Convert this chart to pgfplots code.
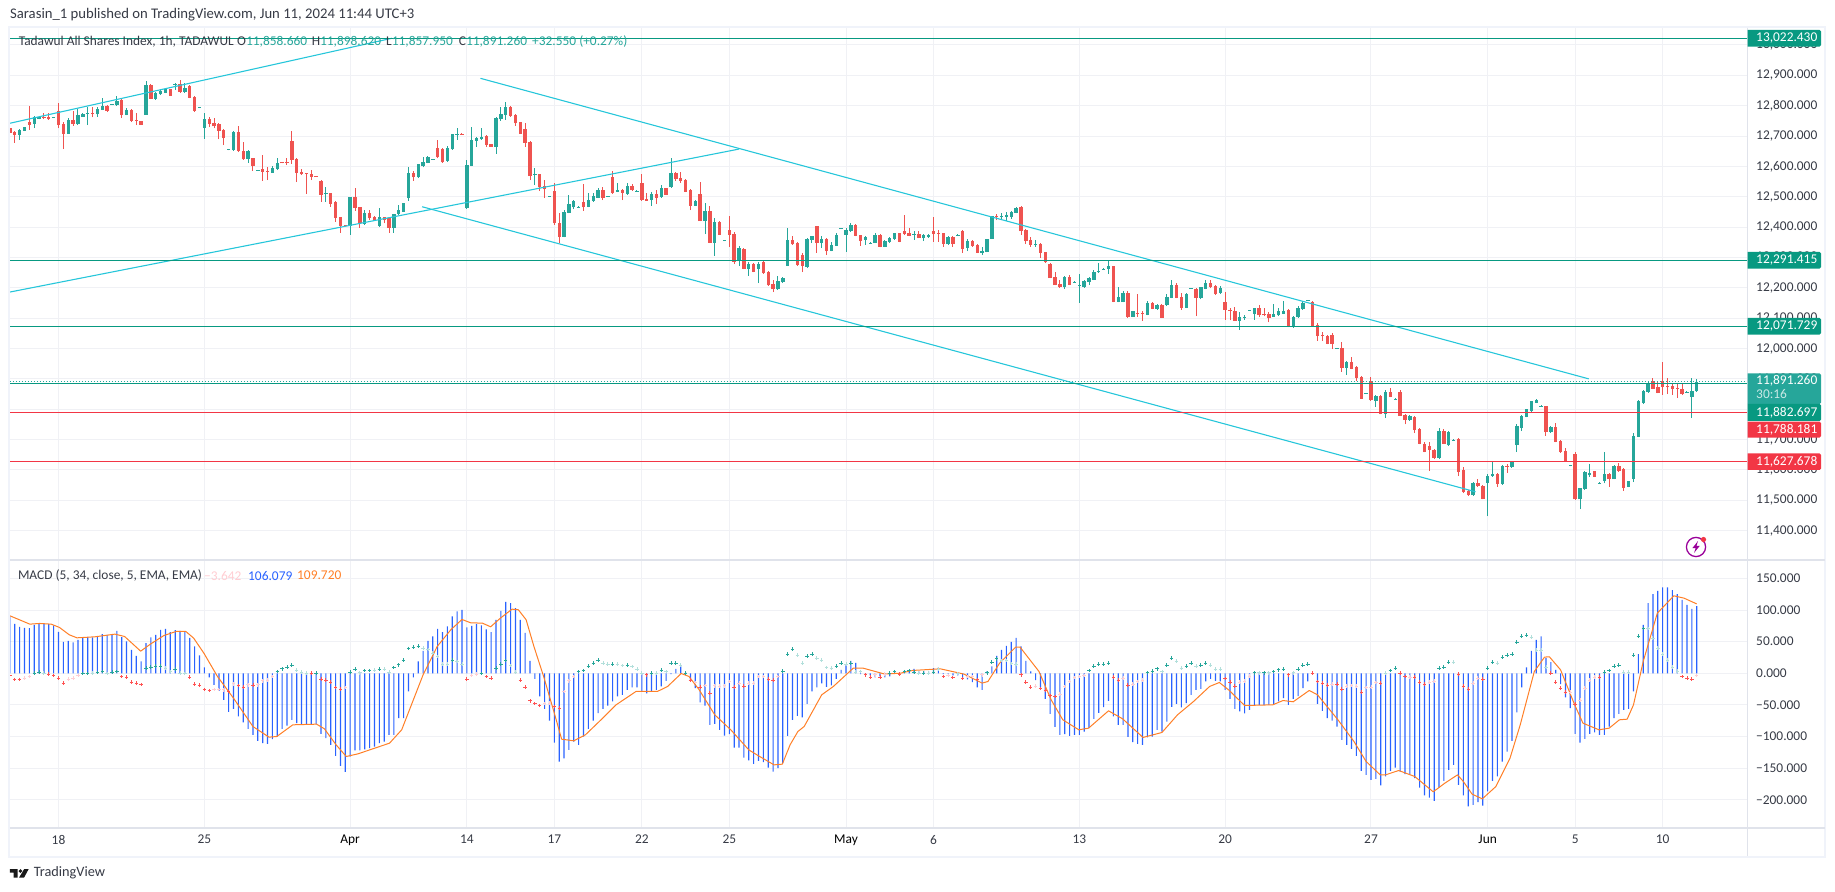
\documentclass[border=0pt]{standalone}
\usepackage{pgfplots}
\usepackage{pgfplotstable}
\pgfplotsset{compat=1.18}
\usepackage{fontspec}
\setmainfont{Carlito}

\definecolor{cup}{HTML}{26A69A}
\definecolor{cdn}{HTML}{EF5350}
\definecolor{gridc}{HTML}{F0F1F5}
\definecolor{framec}{HTML}{F0F3FA}
\definecolor{divc}{HTML}{E0E3EB}
\definecolor{chan}{HTML}{26C6DA}
\definecolor{lvlg}{HTML}{089981}
\definecolor{lvlr}{HTML}{F23645}
\definecolor{macdb}{HTML}{2962FF}
\definecolor{sigo}{HTML}{FF7F27}
\definecolor{hg}{HTML}{26A69A}
\definecolor{hl}{HTML}{B2DFDB}
\definecolor{hr}{HTML}{FF5252}
\definecolor{hp}{HTML}{FFCDD2}
\definecolor{txt}{HTML}{363A45}

\newcommand\fs{\fontsize{13.4}{15}\selectfont}

% hourly candles, bar number n
\pgfplotstableread{
n o h l c
0 12725 12757 12707 12709
1 12714 12718 12678 12703
2 12703 12722 12687 12720
3 12718 12731 12716 12730
4 12746 12799 12720 12737
5 12740 12766 12726 12764
6 12756 12766 12755 12763
7 12762 12775 12755 12759
8 12762 12775 12753 12755
9 12760 12763 12759 12762
10 12781 12809 12725 12737
11 12740 12747 12657 12708
12 12708 12758 12707 12753
13 12753 12781 12733 12740
14 12740 12788 12736 12768
15 12764 12775 12763 12773
16 12773 12794 12736 12777
17 12775 12794 12761 12773
18 12771 12794 12764 12788
19 12786 12824 12785 12800
20 12799 12802 12780 12783
21 12804 12806 12803 12806
22 12801 12832 12799 12815
23 12820 12822 12759 12769
24 12769 12791 12768 12785
25 12785 12788 12746 12751
26 12752 12775 12736 12750
27 12748 12749 12737 12737
28 12770 12881 12770 12868
29 12869 12871 12822 12823
30 12822 12844 12819 12841
31 12837 12851 12835 12849
32 12843 12858 12841 12854
33 12854 12855 12832 12832
34 12869 12873 12852 12871
35 12871 12884 12842 12845
36 12845 12873 12843 12857
37 12865 12868 12824 12826
38 12830 12832 12780 12783
39 12793 12796 12792 12795
40 12726 12775 12691 12756
41 12757 12764 12729 12740
42 12743 12758 12725 12732
43 12740 12742 12689 12718
44 12720 12722 12670 12693
45 12654 12657 12653 12656
46 12654 12715 12652 12713
47 12713 12732 12647 12650
48 12650 12680 12621 12623
49 12625 12654 12612 12652
50 12628 12629 12586 12601
51 12586 12589 12585 12588
52 12590 12636 12553 12583
53 12586 12599 12555 12584
54 12579 12601 12579 12596
55 12591 12626 12588 12611
56 12614 12615 12610 12610
57 12614 12626 12604 12612
58 12684 12716 12608 12621
59 12624 12626 12548 12579
60 12580 12591 12572 12574
61 12579 12579 12509 12577
62 12575 12588 12555 12566
63 12568 12569 12565 12566
64 12552 12555 12484 12506
65 12510 12533 12484 12513
66 12512 12513 12467 12477
67 12482 12486 12417 12430
68 12433 12434 12382 12404
69 12406 12407 12403 12404
70 12404 12499 12374 12499
71 12499 12530 12454 12463
72 12465 12467 12398 12412
73 12411 12456 12407 12446
74 12445 12456 12423 12429
75 12434 12436 12421 12423
76 12404 12462 12401 12433
77 12433 12434 12412 12423
78 12429 12434 12382 12398
79 12398 12443 12382 12442
80 12443 12473 12440 12456
81 12451 12479 12450 12479
82 12495 12599 12486 12578
83 12578 12585 12553 12564
84 12564 12607 12561 12607
85 12600 12632 12597 12613
86 12612 12635 12610 12632
87 12622 12625 12621 12624
88 12660 12687 12626 12630
89 12657 12659 12612 12613
90 12618 12668 12615 12659
91 12656 12707 12654 12705
92 12706 12725 12687 12708
93 12708 12709 12705 12706
94 12462 12621 12460 12603
95 12602 12731 12601 12687
96 12685 12698 12665 12692
97 12689 12725 12687 12696
98 12701 12703 12665 12671
99 12673 12674 12665 12665
100 12665 12764 12641 12760
101 12755 12794 12751 12771
102 12769 12812 12753 12795
103 12797 12799 12764 12766
104 12769 12772 12733 12742
105 12746 12747 12707 12707
106 12722 12742 12665 12678
107 12680 12682 12555 12568
108 12573 12593 12539 12575
109 12574 12575 12520 12531
110 12535 12555 12495 12524
111 12500 12503 12499 12502
112 12518 12544 12407 12412
113 12412 12445 12346 12368
114 12368 12456 12366 12451
115 12447 12505 12445 12476
116 12465 12489 12458 12486
117 12465 12468 12464 12467
118 12483 12542 12454 12465
119 12467 12513 12465 12489
120 12487 12511 12484 12502
121 12497 12528 12495 12522
122 12522 12531 12489 12495
123 12500 12503 12499 12502
124 12566 12585 12509 12513
125 12516 12544 12515 12522
126 12522 12525 12489 12513
127 12509 12544 12506 12536
128 12536 12542 12520 12522
129 12518 12521 12517 12520
130 12544 12575 12487 12489
131 12493 12511 12486 12487
132 12489 12517 12471 12508
133 12509 12522 12476 12496
134 12498 12538 12495 12528
135 12528 12529 12505 12506
136 12531 12628 12529 12579
137 12578 12580 12553 12557
138 12562 12582 12546 12551
139 12555 12557 12515 12516
140 12522 12524 12456 12470
141 12470 12488 12469 12486
142 12509 12549 12419 12420
143 12420 12478 12377 12453
144 12453 12470 12347 12349
145 12349 12429 12305 12417
146 12417 12420 12374 12375
147 12355 12358 12354 12357
148 12390 12437 12336 12374
149 12377 12384 12278 12285
150 12287 12338 12272 12332
151 12328 12330 12261 12262
152 12262 12285 12239 12279
153 12279 12281 12251 12252
154 12262 12285 12215 12279
155 12286 12288 12247 12248
156 12253 12255 12206 12208
157 12213 12226 12186 12195
158 12195 12239 12193 12222
159 12219 12235 12217 12232
160 12272 12397 12272 12358
161 12356 12371 12341 12343
162 12349 12351 12273 12275
163 12308 12314 12252 12271
164 12269 12363 12265 12361
165 12358 12372 12347 12371
166 12404 12405 12315 12349
167 12347 12371 12331 12361
168 12361 12363 12308 12321
169 12321 12352 12320 12341
170 12338 12381 12337 12374
171 12394 12397 12393 12396
172 12374 12396 12318 12389
173 12387 12414 12385 12407
174 12407 12409 12369 12371
175 12374 12375 12338 12354
176 12358 12372 12341 12367
177 12347 12350 12346 12349
178 12348 12380 12347 12374
179 12374 12376 12333 12335
180 12335 12357 12334 12354
181 12351 12368 12348 12364
182 12361 12382 12358 12381
183 12381 12382 12350 12351
184 12387 12440 12375 12377
185 12381 12397 12369 12371
186 12374 12388 12358 12377
187 12377 12388 12363 12364
188 12364 12377 12354 12374
189 12367 12376 12365 12374
190 12387 12433 12351 12377
191 12381 12391 12351 12378
192 12381 12382 12335 12344
193 12344 12371 12341 12367
194 12367 12371 12336 12344
195 12373 12376 12372 12375
196 12387 12391 12315 12328
197 12331 12361 12321 12354
198 12354 12357 12336 12338
199 12341 12343 12314 12315
200 12315 12335 12308 12321
201 12318 12361 12317 12361
202 12361 12437 12360 12437
203 12437 12443 12423 12433
204 12432 12445 12423 12437
205 12433 12450 12420 12440
206 12433 12453 12428 12451
207 12446 12465 12445 12463
208 12467 12470 12374 12387
209 12390 12393 12344 12354
210 12358 12367 12335 12341
211 12341 12358 12335 12344
212 12344 12348 12298 12315
213 12318 12319 12282 12284
214 12279 12281 12231 12232
215 12236 12252 12208 12209
216 12213 12226 12200 12202
217 12202 12239 12196 12236
218 12236 12242 12208 12209
219 12218 12221 12217 12220
220 12206 12246 12150 12209
221 12204 12226 12200 12222
222 12219 12236 12209 12231
223 12226 12259 12225 12252
224 12251 12282 12250 12254
225 12261 12264 12260 12263
226 12262 12288 12246 12272
227 12272 12273 12152 12153
228 12153 12203 12152 12170
229 12153 12190 12152 12183
230 12183 12190 12101 12104
231 12104 12124 12103 12124
232 12118 12180 12104 12115
233 12118 12125 12091 12115
234 12110 12157 12109 12150
235 12150 12153 12129 12130
236 12130 12147 12127 12143
237 12143 12145 12100 12101
238 12143 12180 12140 12170
239 12166 12226 12165 12209
240 12209 12215 12165 12166
241 12170 12183 12127 12134
242 12134 12182 12133 12180
243 12197 12200 12196 12199
244 12196 12199 12107 12166
245 12166 12203 12162 12203
246 12196 12226 12195 12217
247 12215 12226 12198 12202
248 12206 12208 12176 12180
249 12183 12205 12181 12198
250 12153 12185 12094 12127
251 12128 12133 12093 12125
252 12124 12138 12091 12091
253 12091 12119 12061 12105
254 12102 12109 12094 12105
255 12125 12128 12124 12127
256 12113 12134 12094 12132
257 12132 12143 12103 12109
258 12114 12132 12106 12109
259 12114 12119 12086 12100
260 12104 12147 12103 12115
261 12109 12132 12107 12124
262 12114 12157 12113 12124
263 12126 12129 12070 12072
264 12072 12107 12069 12103
265 12103 12140 12101 12133
266 12130 12157 12128 12150
267 12158 12161 12157 12160
268 12153 12157 12072 12074
269 12077 12083 12025 12041
270 12045 12056 12025 12041
271 12041 12046 12014 12015
272 12045 12050 11998 12015
273 12000 12003 11999 12002
274 12002 12022 11924 11936
275 11936 11958 11913 11956
276 11956 11972 11931 11933
277 11939 11942 11892 11903
278 11906 11909 11833 11834
279 11852 11855 11851 11854
280 11893 11906 11828 11830
281 11827 11847 11808 11844
282 11844 11847 11783 11784
283 11784 11863 11771 11857
284 11857 11871 11839 11840
285 11833 11836 11832 11835
286 11857 11863 11777 11778
287 11781 11784 11750 11765
288 11765 11781 11762 11778
289 11774 11778 11721 11732
290 11735 11738 11684 11686
291 11686 11692 11658 11659
292 11679 11692 11597 11666
293 11666 11668 11636 11639
294 11639 11738 11636 11728
295 11728 11735 11685 11686
296 11682 11728 11680 11725
297 11698 11701 11697 11700
298 11702 11705 11580 11593
299 11600 11609 11524 11527
300 11531 11534 11514 11517
301 11517 11559 11514 11557
302 11557 11570 11544 11547
303 11547 11550 11503 11504
304 11557 11587 11448 11580
305 11580 11626 11578 11587
306 11587 11589 11544 11554
307 11554 11616 11552 11613
308 11614 11620 11590 11612
309 11610 11630 11608 11628
310 11682 11751 11659 11745
311 11738 11781 11728 11778
312 11774 11802 11773 11801
313 11794 11828 11792 11827
314 11821 11833 11820 11830
315 11810 11813 11809 11812
316 11811 11812 11712 11725
317 11725 11745 11723 11741
318 11741 11755 11691 11692
319 11695 11698 11657 11659
320 11662 11672 11628 11629
321 11613 11616 11612 11615
322 11653 11659 11501 11503
323 11503 11540 11471 11539
324 11537 11595 11534 11592
325 11583 11620 11577 11590
326 11595 11596 11576 11577
327 11556 11559 11555 11558
328 11564 11659 11556 11587
329 11587 11589 11544 11570
330 11570 11616 11569 11613
331 11613 11622 11594 11597
332 11603 11606 11531 11541
333 11544 11565 11543 11564
334 11570 11722 11560 11712
335 11709 11830 11708 11827
336 11821 11863 11817 11860
337 11857 11893 11855 11886
338 11893 11903 11866 11867
339 11873 11893 11852 11853
340 11893 11956 11847 11873
341 11877 11903 11850 11873
342 11877 11883 11847 11867
343 11870 11883 11838 11867
344 11867 11883 11847 11850
345 11856 11859 11855 11858
346 11840 11903 11771 11860
347 11858.66 11898.62 11857.95 11891.26
}\candles

% macd value m, histogram h and its colour class k
\pgfplotstableread{
n m h k
0 89.9 -3.4 r
1 78.3 -9.7 r
2 73.5 -9.7 r
3 71.9 -7.6 p
4 71.4 -5 p
5 76.7 .3 g
6 79.3 1.8 g
7 78.3 .3 l
8 77.7 -1.3 r
9 75.6 -3.4 r
10 65.6 -7.6 r
11 49.8 -15.5 r
12 51.4 -9.2 p
13 48.7 -7.6 p
14 53 -3.4 p
15 55.6 0 g
16 57.2 0 g
17 56.7 .3 l
18 58.8 1.3 g
19 61.9 2.9 g
20 60.9 0 l
21 60.9 1.8 g
22 67.2 2.9 g
23 57.2 -5 r
24 50.3 -6.1 r
25 37.2 -14 r
26 27.7 -15.5 r
27 18.7 -17.7 r
28 47.7 8.2 g
29 56.7 9.7 g
30 60.9 11.3 g
31 68.8 11.3 g
32 70.4 8.2 l
33 65.1 2.9 l
34 68.2 6.6 g
35 67.2 .3 l
36 65.1 0 l
37 56.1 -6.1 r
38 42.4 -17.1 r
39 28.2 -18.7 r
40 9.2 -25.6 r
41 -6.6 -27.1 r
42 -18.2 -25.6 p
43 -27.7 -25.6 p
44 -41.9 -26.1 p
45 -60.9 -28.7 r
46 -56.1 -16.6 p
47 -68.2 -19.2 r
48 -77.7 -21.9 r
49 -87.7 -18.2 p
50 -97.2 -18.7 r
51 -106.7 -18.2 p
52 -110.4 -11.9 p
53 -111.5 -10.8 p
54 -104.1 -5 p
55 -99.9 2.9 g
56 -87.7 7.1 g
57 -82.5 9.7 g
58 -73.5 12.9 g
59 -78.8 5 l
60 -79.8 1.8 l
61 -79.8 .3 l
62 -79.8 .3 r
63 -80.4 .3 g
64 -95.7 -9.2 r
65 -102.5 -10.8 r
66 -113 -14 r
67 -130.4 -22.9 r
68 -146.2 -25 r
69 -155.7 -22.4 p
70 -131.5 1.8 g
71 -122 6.6 g
72 -122 .8 l
73 -120.4 4.5 g
74 -118.3 4.5 g
75 -115.7 5 l
76 -110.4 6.6 g
77 -107.8 6.6 l
78 -97.2 1.8 l
79 -97.2 9.2 g
80 -70.9 13.4 g
81 -70.9 20.8 g
82 -28.7 39.3 g
83 -6.6 41.4 g
84 18.7 43 g
85 35.6 39.8 l
86 51.4 37.2 l
87 58.2 31.9 l
88 70.4 26.6 l
89 65.1 14.5 l
90 74 14.5 l
91 89.9 20.8 g
92 97.8 18.7 l
93 100.4 14.5 l
94 72.5 -9.2 r
95 75.1 -3.4 p
96 78.3 -1.3 p
97 75.6 0 g
98 69.3 -5 r
99 65.1 -7.6 r
100 84.6 8.2 g
101 98.8 14.5 g
102 113 19.8 g
103 110.9 11.9 l
104 103 1.8 l
105 84.6 -10.8 r
106 64 -21.9 r
107 19.8 -43.5 r
108 -8.7 -47.7 r
109 -36.6 -50.9 r
110 -56.1 -47.7 p
111 -74.6 -47.2 p
112 -109.4 -52.4 r
113 -139.4 -55.1 r
114 -134.6 -28.7 p
115 -120.9 -11.9 p
116 -107.8 -5 p
117 -113 2.4 g
118 -99.9 4.5 g
119 -87.7 11.3 g
120 -74.6 16.1 g
121 -63 20.8 g
122 -56.1 16.1 l
123 -50.9 14.5 l
124 -44.5 14.5 g
125 -36.6 14.5 l
126 -34 11.9 l
127 -26.1 12.9 g
128 -22.4 10.8 l
129 -22.4 6.6 l
130 -27.7 .3 l
131 -31.9 -2.4 r
132 -27.7 .3 g
133 -26.1 .3 l
134 -20.8 5 g
135 -11.9 2.9 l
136 -1.3 16.1 g
137 7.1 16.1 g
138 10.8 12.9 l
139 1.8 .3 g
140 -11.9 -10.8 r
141 -23.5 -14.5 p
142 -46.1 -21.9 r
143 -50.9 -19.2 p
144 -81.4 -31.4 r
145 -79.8 -19.8 p
146 -89.3 -20.3 p
147 -98.3 -19.8 p
148 -96.2 -12.9 p
149 -117.3 -21.9 r
150 -117.3 -15.5 p
151 -133.1 -20.3 r
152 -137.8 -15.5 p
153 -143.1 -15.5 p
154 -138.3 -5.5 p
155 -140.5 -5.5 p
156 -148.9 -9.2 r
157 -155.2 -10.8 r
158 -149.9 -5 p
159 -142 3.4 g
160 -98.8 30.3 g
161 -73.5 38.2 g
162 -67.2 28.7 l
163 -69.8 16.1 l
164 -48.2 27.1 g
165 -28.7 30.3 g
166 -22.4 24 l
167 -16.1 20.8 l
168 -21.3 9.2 l
169 -19.2 8.2 l
170 -8.7 11.3 g
171 5.5 16.1 g
172 12.4 14.5 l
173 19.8 16.1 g
174 16.6 1.8 l
175 -1.3 2.9 l
176 -1.3 -2.4 r
177 -3.4 -6.1 r
178 -6.6 -2.4 p
179 -5 -6.1 r
180 -6.6 -1.3 p
181 -5 .3 g
182 1.8 2.9 g
183 -.3 -1.3 r
184 2.9 2.9 g
185 5 4 g
186 7.1 1.8 g
187 2.9 .3 l
188 2.9 .3 g
189 2.9 .3 l
190 8.2 1.8 g
191 9.2 6.6 l
192 -1.3 -5 r
193 -1.3 -3.4 p
194 -3.4 -6.6 r
195 -3.4 0 l
196 -8.7 -8.2 r
197 -9.7 -5.5 p
198 -14 -5 p
199 -22.4 -9.7 r
200 -26.1 -2.4 p
201 2.9 .8 g
202 10.8 17.7 g
203 27.7 22.9 g
204 37.2 19.8 l
205 43.5 19.8 l
206 49.8 15.5 l
207 56.1 14.5 l
208 42.4 -2.4 r
209 19.8 -14 r
210 2.9 -21.9 r
211 -10.8 -20.3 p
212 -22.4 -24 r
213 -40.3 -26.6 r
214 -64 -35 r
215 -84.6 -36.6 r
216 -97.2 -32.9 p
217 -96.2 -20.8 p
218 -98.8 -12.9 p
219 -97.2 -6.6 p
220 -97.2 -5.5 p
221 -92 -3.4 p
222 -86.7 4 g
223 -71.9 11.3 g
224 -62.5 14.5 g
225 -53.5 14.5 g
226 -43.5 16.1 g
227 -68.2 -6.1 r
228 -81.4 -10.8 r
229 -81.4 -7.6 p
230 -100.4 -18.7 r
231 -108.8 -17.1 p
232 -111.5 -12.9 p
233 -113 -10.8 p
234 -101.4 1.3 g
235 -99.9 3.4 g
236 -89.3 7.1 g
237 -92 2.9 l
238 -76.2 12.9 g
239 -53 24 g
240 -48.2 19.2 l
241 -54 8.2 l
242 -47.2 11.3 g
243 -34 16.1 g
244 -26.1 11.3 l
245 -24.5 12.9 g
246 -12.9 16.1 g
247 -8.7 12.9 l
248 -11.9 6.6 l
249 -12.9 6.6 l
250 -26.1 -8.2 r
251 -40.3 -14 r
252 -56.1 -20.3 r
253 -60.3 -14 p
254 -63.5 -12.4 p
255 -57.7 -4.5 p
256 -50.9 .8 g
257 -49.8 .8 l
258 -49.8 .8 g
259 -49.8 .8 l
260 -48.7 2.4 g
261 -44.5 5.5 g
262 -39.3 6.6 g
263 -49.8 -2.4 r
264 -40.3 .8 l
265 -36.1 6.6 g
266 -23.5 12.9 g
267 -12.9 14.5 g
268 -1.3 .3 r
269 -48.2 -12.9 r
270 -59.3 -15.5 r
271 -70.9 -18.7 r
272 -74.6 -17.1 p
273 -84.1 -17.1 r
274 -105.1 -25 r
275 -113 -20.3 p
276 -119.4 -19.2 p
277 -130.4 -20.3 p
278 -154.1 -29.8 r
279 -160.5 -22.4 p
280 -168.4 -21.9 p
281 -166.8 -14.5 p
282 -177.3 -15.5 r
283 -163.1 .3 l
284 -154.1 4.5 g
285 -148.9 8.2 g
286 -155.2 .3 r
287 -159.4 -5 r
288 -159.4 -6.1 p
289 -165.7 -6.1 r
290 -180.5 -14 r
291 -193.1 -17.1 r
292 -196.3 -14 p
293 -201.6 -12.4 p
294 -180.5 8.2 g
295 -170 9.7 g
296 -152.6 17.7 g
297 -144.7 17.7 l
298 -176.3 -1.3 r
299 -193.1 -20.3 r
300 -210.5 -25 r
301 -207.9 -15.5 p
302 -203.7 -7.6 p
303 -209 -9.2 r
304 -186.8 8.2 g
305 -170 17.7 g
306 -163.1 16.1 l
307 -139.4 25.6 g
308 -123.6 28.7 g
309 -106.7 30.3 g
310 -61.9 49.3 g
311 -22.4 58.8 g
312 9.2 60.3 g
313 35.6 57.2 l
314 53 36.6 l
315 58.2 36.6 l
316 24 9.7 l
317 17.7 .3 r
318 5.5 -14 r
319 -17.1 -23.5 r
320 -38.2 -29.8 r
321 -55.1 -29.8 p
322 -95.7 -48.7 r
323 -109.4 -42.4 p
324 -103.6 -23.5 p
325 -95.7 -10.8 p
326 -93.5 -6.1 p
327 -97.2 -6.1 r
328 -97.2 1.8 g
329 -84.1 4.5 g
330 -70.9 11.3 g
331 -64 12.9 g
332 -57.7 1.8 l
333 -56.1 1.8 l
334 -28.7 28.7 g
335 30.3 58.8 g
336 76.7 70.4 g
337 110.9 70.4 l
338 125.2 55.6 l
339 130.4 39.8 l
340 135.7 30.3 l
341 135.7 20.8 l
342 131.5 9.7 l
343 125.2 3.4 l
344 116.2 -5 r
345 108.3 -7.6 r
346 102 -9.2 r
347 106.079 -3.642 p
}\macdt

\begin{document}
\begin{tikzpicture}[x=1pt,y=1pt]
\path[use as bounding box] (0,0) rectangle (1835,891);

% price pane
\begin{axis}[
    at={(9.9pt,331pt)}, anchor=south west,
    scale only axis, width=1737.6pt, height=532pt,
    xmin=0, xmax=357.46, ymin=11303.4, ymax=13055.8,
    axis line style={draw=none},
    major tick length=0pt,
    scaled y ticks=false,
    xtick={10,40,70,94,112,130,148,172,190,220,250,280,304,322,340},
    xticklabels={},
    ytick={11400,11500,11600,11700,11800,11900,12000,12100,12200,12300,12400,12500,12600,12700,12800,12900,13000},
    yticklabels={11{,}400.000,11{,}500.000,11{,}600.000,11{,}700.000,11{,}800.000,11{,}900.000,12{,}000.000,12{,}100.000,12{,}200.000,12{,}300.000,12{,}400.000,12{,}500.000,12{,}600.000,12{,}700.000,12{,}800.000,12{,}900.000,13{,}000.000},
    yticklabel pos=right,
    yticklabel style={font=\fs, text=txt, inner xsep=0pt, xshift=8.5pt},
    grid=major,
    major grid style={color=gridc, line width=1pt},
    clip=true,
]
% wicks
\addplot[draw=none, mark=none, forget plot, restrict expr to domain={\thisrow{c}-\thisrow{o}}{0:100000},
    error bars/.cd, y dir=plus, y explicit, error mark=none, error bar style={cup, line width=1pt}]
    table[x=n, y=l, y error expr=\thisrow{h}-\thisrow{l}] {\candles};
\addplot[draw=none, mark=none, forget plot, restrict expr to domain={\thisrow{c}-\thisrow{o}}{-100000:-0.001},
    error bars/.cd, y dir=plus, y explicit, error mark=none, error bar style={cdn, line width=1pt}]
    table[x=n, y=l, y error expr=\thisrow{h}-\thisrow{l}] {\candles};
% bodies
\addplot[draw=none, mark=none, forget plot, restrict expr to domain={\thisrow{c}-\thisrow{o}}{0:100000},
    error bars/.cd, y dir=plus, y explicit, error mark=none, error bar style={cup, line width=3.4pt}]
    table[x=n, y=o, y error expr=\thisrow{c}-\thisrow{o}] {\candles};
\addplot[draw=none, mark=none, forget plot, restrict expr to domain={\thisrow{c}-\thisrow{o}}{-100000:-0.001},
    error bars/.cd, y dir=plus, y explicit, error mark=none, error bar style={cdn, line width=3.4pt}]
    table[x=n, y=c, y error expr=\thisrow{o}-\thisrow{c}] {\candles};
% trend lines
\addplot[chan, line width=1.1pt] coordinates {(0,12742)(78.6,13022)};
\addplot[chan, line width=1.1pt] coordinates {(0,12186)(150,12657)};
\addplot[chan, line width=1.1pt] coordinates {(96.8,12890)(324.8,11900)};
\addplot[chan, line width=1.1pt] coordinates {(84.8,12467)(301.5,11528)};
% levels
\addplot[lvlg, line width=1pt] coordinates {(0,13022.43)(357.46,13022.43)};
\addplot[lvlg, line width=1pt] coordinates {(0,12291.415)(357.46,12291.415)};
\addplot[lvlg, line width=1pt] coordinates {(0,12071.729)(357.46,12071.729)};
\addplot[lvlg, line width=1pt] coordinates {(0,11886)(357.46,11886)};
\addplot[lvlr, line width=1pt] coordinates {(0,11788.181)(357.46,11788.181)};
\addplot[lvlr, line width=1pt] coordinates {(0,11627.678)(357.46,11627.678)};
\addplot[cup, line width=1pt, dotted] coordinates {(0,11891.26)(357.46,11891.26)};
\end{axis}

% macd pane
\begin{axis}[
    at={(9.9pt,63pt)}, anchor=south west,
    scale only axis, width=1737.6pt, height=268pt,
    xmin=0, xmax=357.46, ymin=-244.5, ymax=179.1,
    axis line style={draw=none},
    major tick length=0pt,
    xtick={10,40,70,94,112,130,148,172,190,220,250,280,304,322,340},
    xticklabels={18,25,\textcolor{black}{Apr},14,17,22,25,\textcolor{black}{May},6,13,20,27,\textcolor{black}{Jun},5,10},
    xticklabel style={font=\fs, text=txt, inner ysep=0pt, yshift=-7pt},
    ytick={-200,-150,-100,-50,0,50,100,150},
    yticklabels={−200.000,−150.000,−100.000,−50.000,0.000,50.000,100.000,150.000},
    yticklabel pos=right,
    yticklabel style={font=\fs, text=txt, inner xsep=0pt, xshift=8.5pt},
    grid=major,
    major grid style={color=gridc, line width=1pt},
]
\addplot[ybar, bar width=1.15pt, fill=macdb, draw=none, bar shift=0pt] table[x=n, y=m] {\macdt};
\addplot[scatter, only marks, scatter src=explicit symbolic, mark size=1.7pt,
    scatter/classes={
        g={mark=+, draw=hg, line width=.9pt},
        l={mark=+, draw=hl, line width=.9pt},
        r={mark=+, draw=hr, line width=.9pt},
        p={mark=+, draw=hp, line width=.9pt}}]
    table[x=n, y=h, meta=k] {\macdt};
\addplot[sigo, line width=1pt, line join=round] coordinates {
(0,90.9)(2,84.5)(4.1,77.7)(6.1,78.8)(8.5,77.7)(10.2,72.5)(12.2,60.9)(13.8,56.1)(17.5,57.7)(21.6,61.9)
(23.6,58.2)(26.9,35)(28.9,46.1)(31.7,59.8)(34.2,66.1)(36.2,66.1)(37.8,55.6)(39.9,31.9)(42.7,-5)(46,-39.3)
(50,-84.1)(53.3,-100.9)(54.9,-99.9)(58.2,-81.4)(63.1,-80.4)(64.7,-87.7)(67.1,-113)(69.2,-131.5)(71.6,-127.3)(78.1,-110.4)
(80.6,-89.3)(82.6,-49.8)(85,-2.4)(87.9,42.4)(90.7,68.8)(93,85.1)(94.8,79.8)(97.2,79.3)(98.9,73.5)(100.9,87.2)
(103.3,101.4)(104.6,100.4)(106.2,84.6)(107.8,42.4)(109.8,-5)(111.9,-60.3)(113.5,-104.1)(116,-106.7)(118.4,-97.2)(121.6,-73.5)
(124.7,-49.8)(128.8,-28.7)(133.2,-28.7)(135.3,-20.8)(138.1,-.3)(139.7,-5)(141.8,-26.1)(145,-65.6)(148.3,-89.3)(152,-121)
(154,-130.4)(157.2,-144.7)(158.9,-143.6)(160.5,-113)(162.1,-92)(163.4,-84)(167,-34)(169.4,-20.8)(173.5,8.2)(175.5,8.2)
(180,-1.3)(183.3,.3)(185.7,4.5)(191.4,7.1)(196.3,-1.3)(200,-15.5)(201.2,-12.9)(203.6,16.1)(206.9,41.4)(207.8,41.4)
(211.7,2.9)(214.2,-41.9)(216.6,-73.5)(219.9,-89.3)(221.9,-86.7)(226,-59.3)(228.9,-71.9)(233.1,-101.4)(237,-93.5)(240.2,-65.6)
(243.5,-44.5)(246.8,-20.8)(248.8,-14.5)(250.7,-26.1)(254,-50.9)(259.8,-49.8)(261.9,-43)(264,-45)(267.3,-27.1)(269,-34)
(273.2,-73.5)(276.5,-107.8)(279,-139.4)(281.9,-160.5)(283,-160.5)(285.7,-153.6)(289,-163.1)(292.8,-187.3)(295.2,-173.6)(297.8,-160.5)
(299,-171)(300.8,-191)(302.9,-198.4)(305.7,-178.9)(308.6,-134.1)(310.7,-81.4)(313.6,2.9)(315.7,25.6)(316.7,26.1)(319,5.5)
(321.9,-49.8)(323.6,-78.8)(326.9,-89.3)(329,-86.7)(331.1,-73.5)(332.7,-72.5)(334,-49.8)(336,18.7)(338.9,95.1)(342.3,122.5)
(344.4,118.8)(347,109.72)};
\end{axis}

% page furniture, in image pixels
\begin{scope}[yshift=891pt, y=-1pt]
\draw[framec, line width=2.6pt] (9,27) rectangle (1825,857);
\draw[divc, line width=1.1pt] (9.9,560) -- (1825,560);
\draw[divc, line width=1.1pt] (9.9,828) -- (1825,828);
\draw[divc, line width=1.1pt] (1747.5,28) -- (1747.5,856);

\tikzset{tx/.style={anchor=west, inner sep=0pt, font=\fs}}
\node[tx, text=txt, font=\fontsize{14.7}{16}\selectfont] at (9.9,14.7) {Sarasin\_1 published on TradingView.com, Jun 11, 2024 11:44 UTC+3};

\node[tx, text=txt] at (18.6,41.7) {Tadawul All Shares Index, 1h, TADAWUL};
\node[tx, text=txt] at (237,41.7) {O\textcolor{cup}{11,858.660}};
\node[tx, text=txt] at (311.6,41.7) {H\textcolor{cup}{11,898.620}};
\node[tx, text=txt] at (386,41.7) {L\textcolor{cup}{11,857.950}};
\node[tx, text=txt] at (458.7,41.7) {C\textcolor{cup}{11,891.260}};
\node[tx, text=cup] at (532,41.7) {+32.550 (+0.27\%)};

\node[tx, text=txt] at (17.8,575.7) {MACD (5, 34, close, 5, EMA, EMA)};
\node[tx, text=hp] at (204,575.7) {−3.642};
\node[tx, text=macdb] at (248,575.7) {106.079};
\node[tx, text=sigo] at (297,575.7) {109.720};

% price tags
\newcommand\ptag[4]{%
  \fill[#3] (1747.5,#1) -- (1747.5,#2) [rounded corners=1.5pt] -- (1821,#2) -- (1821,#1) [sharp corners] -- cycle;
  \node[tx, text=white] at (1756,{(#1+#2)/2}) {#4};}
\ptag{30}{46.7}{lvlg}{13,022.430}
\ptag{252}{268.7}{lvlg}{12,291.415}
\ptag{318}{334.7}{lvlg}{12,071.729}
\ptag{373.3}{404}{cup}{}
\node[tx, text=white] at (1756,381) {11,891.260};
\node[tx, text=white, opacity=.75] at (1756,394.5) {30:16};
\ptag{404}{421}{lvlg}{11,882.697}
\ptag{421.7}{437.7}{lvlr}{11,788.181}
\ptag{453.3}{470}{lvlr}{11,627.678}

% replay icon
\draw[black!0!violet!80!magenta, line width=1.3pt] (1696,547) circle (9.6);
\fill[black!0!violet!80!magenta] (1698,541) -- (1692.3,548.2) -- (1695.6,548.2) -- (1694,553) -- (1699.8,545.8) -- (1696.5,545.8) -- cycle;
\fill[lvlr] (1703.5,539.5) circle (2.6);

% logo
\fill[black!90] (9.9,869) rectangle (17.5,872.6) (13.5,872.6) rectangle (17.5,877.7);
\fill[black!90] (20.4,871) circle (1.9);
\fill[black!90] (24.2,869) -- (28.7,869) -- (24,877.7) -- (19,877.7) -- cycle;
\node[tx, text=txt, font=\fontsize{14.3}{16}\selectfont] at (33.6,873) {TradingView};
\end{scope}
\end{tikzpicture}
\end{document}
